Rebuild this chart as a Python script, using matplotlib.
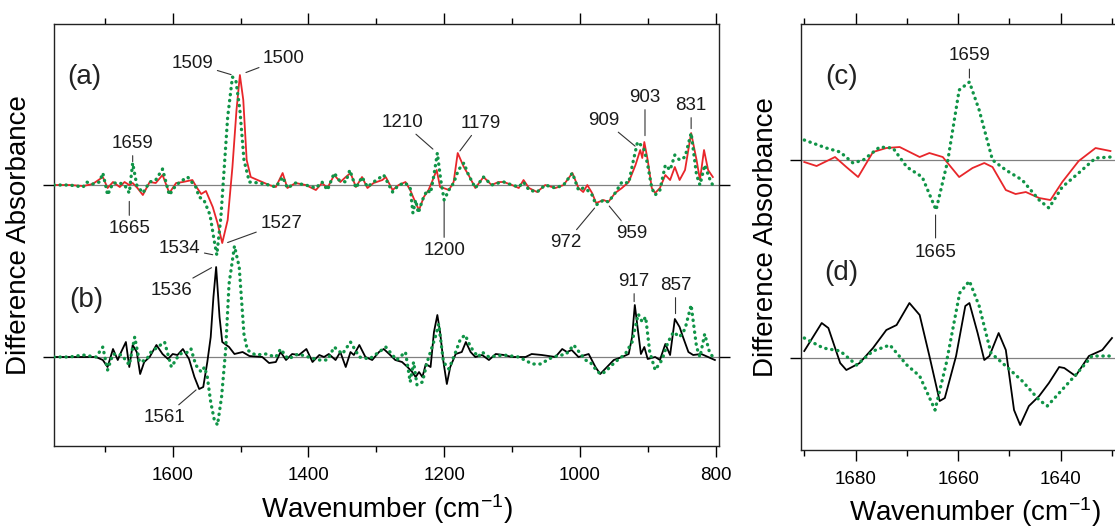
import matplotlib
matplotlib.use("Agg")
from matplotlib import pyplot as plt
from matplotlib.ticker import MultipleLocator

plt.rcParams['font.family'] = ['Liberation Sans', 'DejaVu Sans']
plt.rcParams['mathtext.default'] = 'regular'

# ---- panel (a): red (solid) and green (dotted), values in arbitrary units
a_red_wn = [1775, 1752, 1732, 1718, 1703, 1696, 1688, 1678, 1671, 1664, 1659, 1652, 1644, 1634, 1625,
            1615, 1605, 1595, 1585, 1571, 1565, 1558, 1551, 1541, 1534, 1527, 1519, 1512, 1506, 1501,
            1496, 1491, 1485, 1475, 1468, 1458, 1448, 1438, 1431, 1419, 1404, 1389, 1380, 1372, 1362,
            1353, 1345, 1338, 1330, 1321, 1313, 1304, 1291, 1286, 1276, 1267, 1257, 1250, 1242, 1237,
            1230, 1223, 1218, 1211, 1206, 1201, 1193, 1186, 1180, 1171, 1164, 1154, 1142, 1130, 1120,
            1112, 1100, 1090, 1083, 1075, 1063, 1051, 1036, 1024, 1011, 1002, 995, 989, 982, 976,
            965, 958, 948, 938, 928, 918, 911, 908, 905, 900, 894, 889, 882, 874, 867,
            860, 853, 845, 836, 828, 823, 817, 811, 804]
a_red = [0, 0, -1, 1, 8, -3, 3, -2, 3, 0, 2, -3, -10, 3, 2,
         10, -8, 2, 3, 5, -2, -9, -6, -22, -38, -58, -35, 18, 75, 110,
         85, 25, 8, 5, 3, 0, -2, 12, -3, 2, 0, -5, 2, -3, 10,
         3, 8, 12, -2, 8, -3, 2, 5, 8, -5, 0, 3, -5, -18, -25,
         -12, -5, 3, 15, -2, -3, -5, 3, 32, 18, 10, -3, 8, 0, 3,
         3, 0, -3, 5, -3, -7, 0, -3, 0, 12, -3, -7, 0, -8, -18,
         -15, -17, -8, -3, 3, 20, 35, 27, 43, 25, -3, -8, -3, 10, 5,
         18, 5, 15, 52, 25, 5, 35, 15, 8]

a_grn_wn = [1775, 1752, 1732, 1727, 1718, 1708, 1703, 1698, 1696, 1688, 1678, 1671, 1664, 1659, 1653,
            1644, 1634, 1625, 1615, 1605, 1595, 1585, 1578, 1566, 1561, 1554, 1545, 1539, 1535, 1529,
            1524, 1519, 1512, 1507, 1501, 1495, 1487, 1472, 1458, 1448, 1438, 1431, 1419, 1404, 1389,
            1380, 1372, 1362, 1355, 1345, 1339, 1330, 1321, 1313, 1304, 1289, 1276, 1267, 1257, 1250,
            1246, 1242, 1238, 1232, 1225, 1220, 1215, 1210, 1205, 1200, 1193, 1186, 1179, 1171, 1164,
            1154, 1142, 1130, 1120, 1112, 1100, 1090, 1083, 1075, 1063, 1051, 1036, 1024, 1011, 1002,
            995, 989, 982, 976, 965, 958, 948, 938, 928, 921, 915, 910, 905, 900, 894,
            889, 882, 874, 867, 860, 853, 845, 836, 828, 823, 816, 808, 802]
a_grn = [0, 0, -2, 3, 1, 3, 12, -3, -10, 2, 2, 0, -8, 22, 0,
         -8, 3, 5, 16, -10, 0, 5, 8, -2, -12, -15, -30, -55, -70, -32,
         18, 68, 108, 105, 75, 25, 3, 2, 0, -2, 8, -3, 2, 0, -3,
         3, -5, 12, 5, 3, 15, -3, 8, -2, 3, 10, -7, 0, 2, -3,
         -28, -15, -28, -15, -5, -8, 10, 32, 5, -15, -5, 2, 15, 22, 10,
         -3, 8, 0, 2, 3, 0, -2, 3, -5, -7, 0, -3, 0, 12, -5,
         -3, -5, -10, -20, -15, -17, -8, 3, 2, 25, 43, 40, 35, 20, -3,
         -10, -5, 20, 15, 30, 25, 28, 52, 10, 0, 20, 5, -3]

# ---- panel (b): black (solid) and green (dotted)
b_blk_wn = [1775, 1752, 1732, 1713, 1703, 1696, 1688, 1681, 1676, 1669, 1664, 1659, 1653, 1648, 1642,
            1634, 1624, 1615, 1607, 1600, 1593, 1585, 1576, 1568, 1561, 1555, 1549, 1544, 1540, 1536,
            1531, 1527, 1517, 1509, 1497, 1487, 1468, 1458, 1448, 1441, 1433, 1424, 1414, 1403, 1394,
            1384, 1377, 1370, 1360, 1353, 1345, 1338, 1333, 1325, 1316, 1306, 1296, 1289, 1281, 1272,
            1262, 1254, 1247, 1242, 1237, 1232, 1227, 1220, 1215, 1210, 1206, 1201, 1196, 1191, 1183,
            1174, 1168, 1161, 1154, 1144, 1134, 1124, 1112, 1100, 1080, 1071, 1056, 1036, 1026, 1019,
            1012, 1002, 987, 977, 970, 960, 950, 938, 928, 923, 919, 915, 910, 905, 900,
            889, 882, 874, 867, 860, 853, 848, 840, 833, 821, 811, 801]
b_blk = [0, 0, 0, 0, -3, -10, 8, -3, 5, 15, -10, 12, 5, -17, -5,
         0, 12, 3, -2, 3, 2, 8, -2, -20, -32, -30, -5, 20, 60, 90,
         40, 15, 10, 3, 5, 1, 0, -6, -5, 5, -3, 3, 2, 8, -5,
         2, 0, 3, -3, 5, -10, 5, 2, 12, 0, -3, 5, 8, 3, -3,
         -5, -10, -15, -20, -15, -20, -7, -10, 25, 42, 25, -5, -27, -10, 3,
         5, 15, 5, 0, 2, -3, 3, 2, 0, 0, 3, 2, 0, 8, 5,
         7, 0, 3, -10, -17, -10, -3, 0, 3, 20, 52, 30, 3, 10, -2,
         0, -3, 13, 2, 38, 30, 20, 5, 2, 3, 0, -3]

b_grn_wn = [1775, 1752, 1732, 1713, 1703, 1696, 1688, 1675, 1664, 1656, 1649, 1639, 1632, 1612, 1602,
            1590, 1576, 1573, 1566, 1558, 1553, 1549, 1544, 1539, 1534, 1528, 1522, 1517, 1509, 1502,
            1495, 1490, 1478, 1463, 1448, 1441, 1430, 1415, 1400, 1385, 1372, 1362, 1350, 1338, 1325,
            1310, 1286, 1270, 1257, 1250, 1245, 1240, 1232, 1225, 1213, 1208, 1201, 1193, 1183, 1176,
            1169, 1161, 1150, 1144, 1134, 1112, 1090, 1070, 1058, 1040, 1020, 1009, 992, 985, 977,
            970, 963, 948, 933, 923, 914, 908, 903, 897, 889, 879, 870, 862, 853, 845,
            836, 828, 823, 816, 809, 802]
b_grn = [0, 0, 2, 0, 10, -13, 3, 2, -8, 20, -5, -3, 5, 15, -10,
         3, 5, 8, -8, -15, -10, -20, -45, -62, -68, -40, 7, 73, 111, 90,
         23, 7, 2, 3, 0, 8, -2, 3, 0, -3, -3, 10, 3, 15, 0,
         -2, 10, -3, 5, -25, -5, -28, -25, -5, 20, 33, -5, -12, 5, 18,
         22, 10, 0, 5, 0, 2, 0, -7, -7, 0, 3, 12, -3, -5, -12,
         -17, -15, -5, 3, 15, 43, 35, 40, 5, -13, -3, 15, 25, 20, 28,
         52, 10, 0, 23, 5, -2]

# ---- panel (c): red (solid) and green (dotted), amide I region
c_red_wn = [1690, 1687.6, 1684, 1681.8, 1679.5, 1676.6, 1674, 1671.4, 1667.5, 1665.6, 1663, 1659.8,
            1657.2, 1654.9, 1653.3, 1650.7, 1648.8, 1646.8, 1644.2, 1642, 1639.7, 1636.5, 1633.2, 1630.3]
c_red = [-2, -6, 3, -7, -17, 8, 12, 13, 3, 7, 3, -17,
         -8, -3, -7, -30, -34, -32, -38, -40, -22, -1, 12, 9]
c_grn_wn = [1690, 1685.7, 1683, 1680.5, 1678.5, 1675.3, 1672.7, 1670, 1667, 1664.3, 1662, 1659.8,
            1657.8, 1655.9, 1653.3, 1650.7, 1647.5, 1644.2, 1642.3, 1639.7, 1636.5, 1633.2, 1630.3]
c_grn = [20, 12, 8, -3, 0, 13, 12, -7, -17, -50, 0, 70,
         78, 50, 0, -10, -20, -40, -48, -27, -13, 2, 3]

# ---- panel (d): black (solid) and green (dotted)
d_blk_wn = [1690, 1686.6, 1685.3, 1683, 1681.8, 1679.2, 1676.6, 1674, 1672, 1669.5, 1667.5, 1665.6,
            1663.6, 1662.6, 1660.4, 1658.6, 1657.8, 1656.2, 1654.9, 1653.9, 1652.1, 1650.7, 1649.1,
            1647.9, 1646.2, 1644.2, 1642.3, 1640.3, 1639.3, 1637.1, 1634.5, 1631.9, 1630]
d_blk = [7, 35, 30, -5, -12, -5, 10, 28, 33, 55, 43, 2,
         -43, -40, 2, 52, 55, 25, -2, 2, 25, 8, -52,
         -67, -48, -38, -25, -9, -10, -18, 2, 8, 20]
d_grn_wn = [1690, 1686.3, 1683, 1679.8, 1676.6, 1673.3, 1670, 1667.5, 1664.5, 1662.3, 1659.7, 1657.8,
            1655.9, 1653.6, 1650.7, 1647.5, 1644.2, 1642.6, 1640.3, 1637.1, 1633.9, 1630.3]
d_grn = [20, 10, 7, -7, 7, 13, -7, -18, -52, -5, 65, 77,
         52, 5, -8, -23, -42, -48, -35, -17, 2, 2]

# peak labels: text, label x, label y, pointer x, pointer y (y relative to baseline), panel
left_labels = [
    ("1509", 1571, 122, 1512, 110, "a"), ("1500", 1436, 127, 1494, 112, "a"),
    ("1659", 1659, 42, 1659, 22, "a"), ("1665", 1664, -43, 1664, -15, "a"),
    ("1527", 1440, -38, 1521, -58, "a"), ("1534", 1590, -63, 1539, -70, "a"),
    ("1210", 1262, 63, 1215, 35, "a"), ("1179", 1146, 62, 1178, 33, "a"),
    ("1200", 1200, -65, 1200, -12, "a"), ("972", 1020, -57, 977, -22, "a"),
    ("959", 924, -48, 958, -20, "a"), ("909", 965, 65, 917, 38, "a"),
    ("903", 904, 88, 904, 48, "a"), ("831", 836, 80, 836, 55, "a"),
    ("1536", 1602, 67, 1541, 90, "b"), ("1561", 1612, -60, 1564, -32, "b"),
    ("917", 920, 76, 920, 54, "b"), ("857", 859, 72, 859, 42, "b"),
]

off_a, off_b = 261, 89
off_c, off_d = 290, 92

red = '#e8262a'
green = '#109447'
dot = (0, (0.1, 1.7))
lab_fs = 13.5
tick_fs = 13.5
axis_fs = 20
panel_fs = 20

fig = plt.figure(figsize=(11.15, 5.28), dpi=100)
ax = fig.add_axes([0.0484, 0.1553, 0.5964, 0.7992])
ax2 = fig.add_axes([0.7181, 0.1477, 0.2815, 0.8068])

# left panel
for off in (off_a, off_b):
    ax.axhline(off, color='#808080', lw=0.9, zorder=1)
ax.plot(a_red_wn, [v + off_a for v in a_red], color=red, lw=1.3, zorder=3)
ax.plot(a_grn_wn, [v + off_a for v in a_grn], color=green, lw=2.4, ls=dot,
        dash_capstyle='round', zorder=4)
ax.plot(b_blk_wn, [v + off_b for v in b_blk], color='black', lw=1.3, zorder=3)
ax.plot(b_grn_wn, [v + off_b for v in b_grn], color=green, lw=2.4, ls=dot,
        dash_capstyle='round', zorder=4)

for txt, tx, ty, px, py, panel in left_labels:
    off = off_a if panel == "a" else off_b
    ax.annotate(txt, xy=(px, py + off), xytext=(tx, ty + off), ha='center', va='center',
                fontsize=lab_fs, color='#1a1a1a',
                arrowprops=dict(arrowstyle='-', color='#333333', lw=0.8, shrinkA=1, shrinkB=1))
ax.text(1730, 369, "(a)", fontsize=panel_fs, ha='center', va='center', color='#222222')
ax.text(1728, 146, "(b)", fontsize=panel_fs, ha='center', va='center', color='#222222')

ax.set_xlim(1775, 795)
ax.set_ylim(0, 422)
ax.xaxis.set_major_locator(MultipleLocator(200))
ax.xaxis.set_minor_locator(MultipleLocator(100))
ax.set_yticks([off_b, off_a])
ax.set_yticklabels([])
ax.tick_params(axis='x', which='both', direction='out', top=True, labeltop=False,
               labelsize=tick_fs, pad=7)
ax.tick_params(axis='y', which='both', direction='out', right=True)
ax.tick_params(which='major', length=8, width=1.0)
ax.tick_params(which='minor', length=4.5, width=1.0)
ax.set_xlabel(r'Wavenumber (cm$^{-1}$)', fontsize=axis_fs, labelpad=6)
ax.set_ylabel('Difference Absorbance', fontsize=axis_fs, labelpad=4)

# right panel
for off in (off_c, off_d):
    ax2.axhline(off, color='#808080', lw=0.9, zorder=1)
ax2.plot(c_red_wn, [v + off_c for v in c_red], color=red, lw=1.3, zorder=3)
ax2.plot(c_grn_wn, [v + off_c for v in c_grn], color=green, lw=2.4, ls=dot,
         dash_capstyle='round', zorder=4)
ax2.plot(d_blk_wn, [v + off_d for v in d_blk], color='black', lw=1.3, zorder=3)
ax2.plot(d_grn_wn, [v + off_d for v in d_grn], color=green, lw=2.4, ls=dot,
         dash_capstyle='round', zorder=4)
ax2.annotate("1659", xy=(1657.8, off_c + 82), xytext=(1657.8, off_c + 105), ha='center', va='center',
             fontsize=lab_fs, color='#1a1a1a',
             arrowprops=dict(arrowstyle='-', color='#333333', lw=0.8, shrinkA=2, shrinkB=0))
ax2.annotate("1665", xy=(1664.4, off_c - 55), xytext=(1664.4, off_c - 92), ha='center', va='center',
             fontsize=lab_fs, color='#1a1a1a',
             arrowprops=dict(arrowstyle='-', color='#333333', lw=0.8, shrinkA=2, shrinkB=0))
ax2.text(1682.7, 373, "(c)", fontsize=panel_fs, ha='center', va='center', color='#222222')
ax2.text(1682.7, 177, "(d)", fontsize=panel_fs, ha='center', va='center', color='#222222')

ax2.set_xlim(1690.7, 1629.5)
ax2.set_ylim(0, 426)
ax2.xaxis.set_major_locator(MultipleLocator(20))
ax2.xaxis.set_minor_locator(MultipleLocator(10))
ax2.set_yticks([off_d, off_c])
ax2.set_yticklabels([])
ax2.tick_params(axis='x', which='both', direction='out', top=True, labeltop=False,
                labelsize=tick_fs, pad=7)
ax2.tick_params(axis='y', which='both', direction='out')
ax2.tick_params(which='major', length=8, width=1.0)
ax2.tick_params(which='minor', length=4.5, width=1.0)
ax2.spines['right'].set_visible(False)
ax2.set_xlabel(r'Wavenumber (cm$^{-1}$)', fontsize=axis_fs)
ax2.xaxis.set_label_coords(0.555, -0.105)
ax2.set_ylabel('Difference Absorbance', fontsize=axis_fs, labelpad=4)

for a in (ax, ax2):
    for s in a.spines.values():
        s.set_linewidth(1.0)
        s.set_color('#222222')

fig.savefig("out.png", dpi=100)
